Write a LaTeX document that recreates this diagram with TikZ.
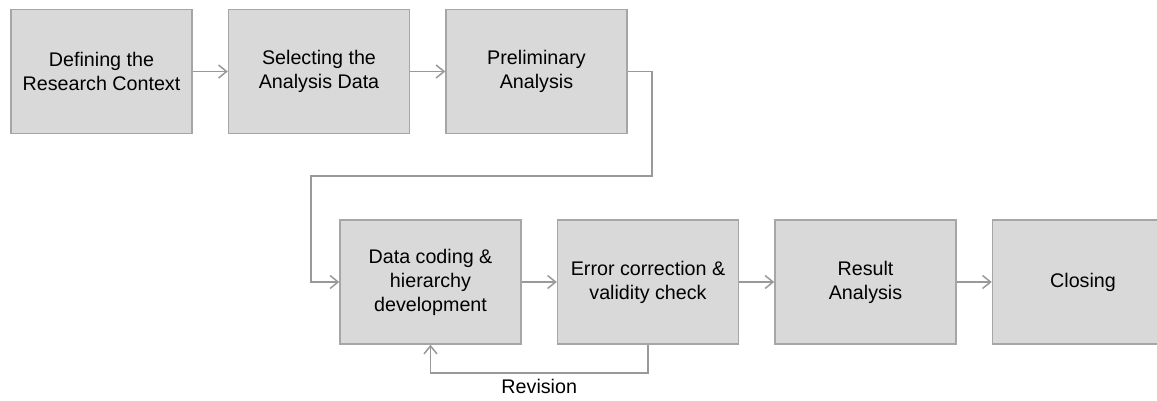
\documentclass[tikz,border=0pt]{standalone}
\usepackage{fontspec}
\setmainfont{Liberation Sans}
\usepackage{tikz}
\usetikzlibrary{positioning,arrows.meta}
\definecolor{boxfill}{HTML}{D9D9D9}
\definecolor{boxline}{HTML}{A6A6A6}
\definecolor{flowline}{HTML}{999999}

\begin{document}
	\begin{tikzpicture}
		[x=1pt, y=1pt,
		font=\fontsize{19.7}{24}\selectfont,
		stepbox/.style={rectangle, fill=boxfill, draw=boxline, line width=1.5pt,
			minimum width=181pt, minimum height=124pt, align=center, inner sep=0pt},
		flow/.style={draw=flowline, line width=1.5pt,
			-{Straight Barb[length=8pt, width=13pt]}},
		node distance=35pt,
		]
		\clip (0,0) rectangle (1157,-401);
		% upper row
		\node[stepbox] (define) at (101.5,-71.5) {Defining the\\Research Context};
		\node[stepbox, right=of define] (select) {Selecting the\\Analysis Data};
		\node[stepbox, right=of select] (prelim) {Preliminary\\Analysis};
		% lower row
		\node[stepbox] (coding) at (430.5,-282) {Data coding \&\\hierarchy\\development};
		\node[stepbox, right=of coding] (check) {Error correction \&\\validity check};
		\node[stepbox, right=of check] (result) {Result\\Analysis};
		\node[stepbox, right=of result] (closing) {Closing};
		
		\coordinate (turnA) at (652,-176);
		\coordinate (turnB) at (311,-176);
		
		\draw[flow] (define) -- (select);
		\draw[flow] (select) -- (prelim);
		\draw[flow] (prelim.east) -| (turnA) -- (turnB) |- (coding.west);
		\draw[flow] (coding) -- (check);
		\draw[flow] (check) -- (result);
		\draw[flow] (result) -- (closing);
		%	revision loop
		\draw[flow] (check.south) -- ++(0,-28) -| (coding.south)
			node[pos=0.25, below=2pt] (revision) {Revision};
	\end{tikzpicture}
\end{document}
